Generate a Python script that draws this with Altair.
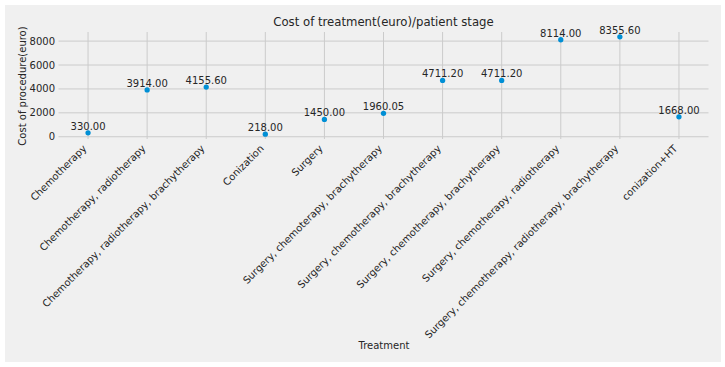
import altair as alt
import pandas as pd

treatments = [
    "Chemotherapy",
    "Chemotherapy, radiotherapy",
    "Chemotherapy, radiotherapy, brachytherapy",
    "Conization",
    "Surgery",
    "Surgery, chemoterapy, brachytherapy",
    "Surgery, chemotherapy,  brachytherapy",
    "Surgery, chemotherapy, brachytherapy",
    "Surgery, chemotherapy, radiotherapy",
    "Surgery, chemotherapy, radiotherapy, brachytherapy",
    "conization+HT",
]
costs = [330.00, 3914.00, 4155.60, 218.00, 1450.00, 1960.05, 4711.20, 4711.20, 8114.00, 8355.60, 1668.00]
y_ticks = [0, 2000, 4000, 6000, 8000]
chart_title = "Cost of treatment(euro)/patient stage"

df = pd.DataFrame({"Treatment": treatments, "Cost": costs})
df["Label"] = [f"{v:.2f}" for v in costs]
ticks_df = pd.DataFrame({"Cost": y_ticks})

FONT = "DejaVu Sans"
TXT = "#262626"
GRID = "#cbcbcb"

x_scale = alt.Scale(type="point", padding=0.5)
y_scale = alt.Scale(domain=[-189, 8762], nice=False, zero=False)

x_axis = alt.Axis(
    title="Treatment",
    labelAngle=-45,
    labelAlign="right",
    labelBaseline="bottom",
    labelPadding=11,
    labelFontSize=10,
    labelFont=FONT,
    labelColor=TXT,
    labelLimit=400,
    labelOverlap=False,
    ticks=False,
    domain=False,
    grid=False,
    zindex=1,
    titleFontSize=10,
    titleFont=FONT,
    titleFontWeight="normal",
    titleColor=TXT,
    titleY=206,
    titleBaseline="middle",
)
y_axis = alt.Axis(
    title="Cost of procedure(euro)",
    values=y_ticks,
    tickCount=5,
    format="d",
    labelOverlap=False,
    labelPadding=4,
    labelFontSize=10,
    labelFont=FONT,
    labelColor=TXT,
    ticks=False,
    domain=False,
    grid=False,
    zindex=1,
    titleFontSize=10,
    titleFont=FONT,
    titleFontWeight="normal",
    titleColor=TXT,
    titleX=-36.5,
    titleBaseline="middle",
)

X = alt.X("Treatment:N", sort=treatments, scale=x_scale, axis=x_axis)
Y = alt.Y("Cost:Q", scale=y_scale, axis=y_axis)

base = alt.Chart(df)

bg = alt.Chart(alt.Data(values=[{"t": chart_title}])).mark_rect(color="#f0f0f0").encode(
    x=alt.value(-53.5), x2=alt.value(662.5), y=alt.value(-27), y2=alt.value(330)
)
title_mark = alt.Chart(alt.Data(values=[{"t": chart_title}])).mark_text(
    fontSize=11.7, font=FONT, color=TXT, baseline="middle", align="center"
).encode(x=alt.value(325), y=alt.value(-10), text="t:N")

vgrid = base.mark_rule(color=GRID, strokeWidth=1).encode(x=X)
hgrid = alt.Chart(ticks_df).mark_rule(color=GRID, strokeWidth=1).encode(y=Y)

pts = base.mark_circle(size=28, color="#008fd5", opacity=1).encode(x=X, y=Y)
lbl = base.mark_text(
    fontSize=10, font=FONT, color=TXT, baseline="alphabetic", dy=-3
).encode(x=X, y=Y, text="Label:N")

chart = (
    alt.layer(bg, vgrid, hgrid, pts, lbl, title_mark)
    .properties(
        width=650,
        height=107,
        autosize=alt.AutoSizeParams(type="none"),
        padding={"left": 58.5, "top": 32, "right": 16.5, "bottom": 228},
        background="white",
    )
    .configure_view(stroke=None, fill=None)
)

chart.save("out.html", embed_options={"renderer": "svg", "actions": False})
